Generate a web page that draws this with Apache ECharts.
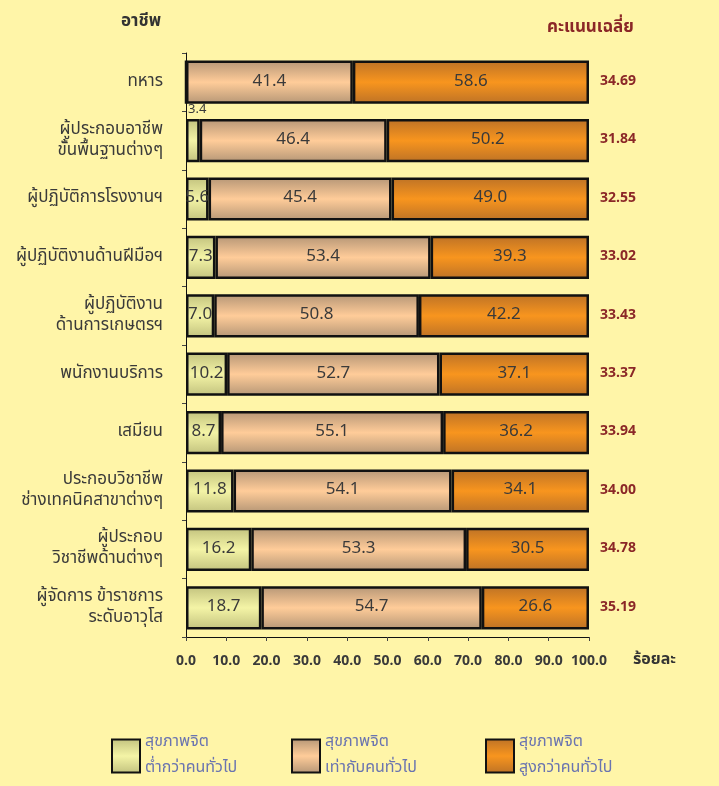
<!DOCTYPE html>
<html>
<head>
<meta charset="utf-8">
<script src="https://cdn.jsdelivr.net/npm/echarts@6/dist/echarts.min.js"></script>
<style>
  html, body { margin: 0; padding: 0; background: #fff5a8; }
  #chart { width: 719px; height: 786px; }
</style>
</head>
<body>
<div id="chart"></div>
<script>
// อาชีพ
const categories = [
  'ทหาร',
  'ผู้ประกอบอาชีพ\nขั้นพื้นฐานต่างๆ',
  'ผู้ปฏิบัติการโรงงานฯ',
  'ผู้ปฏิบัติงานด้านฝีมือฯ',
  'ผู้ปฏิบัติงาน\nด้านการเกษตรฯ',
  'พนักงานบริการ',
  'เสมียน',
  'ประกอบวิชาชีพ\nช่างเทคนิคสาขาต่างๆ',
  'ผู้ประกอบ\nวิชาชีพด้านต่างๆ',
  'ผู้จัดการ ข้าราชการ\nระดับอาวุโส'
]
const lowValues = [0, 3.4, 5.6, 7.3, 7.0, 10.2, 8.7, 11.8, 16.2, 18.7]
const equalValues = [41.4, 46.4, 45.4, 53.4, 50.8, 52.7, 55.1, 54.1, 53.3, 54.7]
const highValues = [58.6, 50.2, 49.0, 39.3, 42.2, 37.1, 36.2, 34.1, 30.5, 26.6]
const avgScores = ['34.69', '31.84', '32.55', '33.02', '33.43', '33.37', '33.94', '34.00', '34.78', '35.19']
const seriesNames = ['สุขภาพจิต\nต่ำกว่าคนทั่วไป', 'สุขภาพจิต\nเท่ากับคนทั่วไป', 'สุขภาพจิต\nสูงกว่าคนทั่วไป']

const FONT = 'Tahoma, "Noto Sans Thai", "Noto Sans", sans-serif'

function grad(edge, mid) {
  return new echarts.graphic.LinearGradient(0, 0, 0, 1, [
    { offset: 0, color: edge },
    { offset: 0.5, color: mid },
    { offset: 1, color: edge }
  ])
}

const colors = [
  grad('#c2c27e', '#f4f4a6'),
  grad('#b59676', '#ffcc99'),
  grad('#bd7226', '#f8951e')
]

const chart = echarts.init(document.getElementById('chart'))

function barSeries(idx, values) {
  return {
    name: seriesNames[idx],
    type: 'bar',
    stack: 'total',
    barWidth: '74%',
    data: values.map((v, i) => {
      // 3.4 อยู่เหนือแท่ง
      if (idx === 0 && v > 0 && v < 5) {
        return { value: v, label: { position: [2, -15], fontSize: 13 } }
      }
      return v
    }),
    itemStyle: { color: colors[idx], borderColor: '#111', borderWidth: 2.5 },
    label: {
      show: true,
      position: 'inside',
      color: '#3a3a3a',
      fontSize: 17,
      fontFamily: FONT,
      formatter: p => (p.value > 0 ? p.value.toFixed(1) : '')
    },
    emphasis: { disabled: true }
  }
}

function legendAt(idx, left) {
  return {
    data: [{ name: seriesNames[idx], icon: 'rect' }],
    left: left,
    top: 725,
    itemWidth: 28,
    itemHeight: 33,
    itemGap: 10,
    selectedMode: false,
    textStyle: { color: '#6a74b0', fontSize: 16, fontFamily: FONT, lineHeight: 26 }
  }
}

chart.setOption({
  backgroundColor: '#fff5a8',
  animation: false,
  grid: { left: 186, right: 130, top: 53, height: 584 },
  title: [
    { text: 'อาชีพ', left: 116, top: 9, textStyle: { fontSize: 17, fontWeight: 'bold', color: '#333', fontFamily: FONT } },
    { text: 'คะแนนเฉลี่ย', left: 542, top: 15, textStyle: { fontSize: 17, fontWeight: 'bold', color: '#8b2727', fontFamily: FONT } },
    { text: 'ร้อยละ', left: 628, top: 648, textStyle: { fontSize: 16, fontWeight: 'bold', color: '#333', fontFamily: FONT } }
  ],
  legend: [legendAt(0, 106), legendAt(1, 286), legendAt(2, 480)],
  xAxis: {
    type: 'value',
    min: 0,
    max: 100,
    interval: 10,
    splitLine: { show: false },
    axisLine: { show: true, lineStyle: { color: '#111' } },
    axisTick: { show: true, length: 4, lineStyle: { color: '#444' } },
    axisLabel: {
      color: '#3a3a3a',
      fontSize: 14,
      fontWeight: 'bold',
      fontFamily: FONT,
      margin: 18,
      formatter: v => v.toFixed(1)
    }
  },
  yAxis: [
    {
      type: 'category',
      data: categories,
      inverse: true,
      axisLine: { show: true, lineStyle: { color: '#111' } },
      axisTick: { show: true, length: 4, lineStyle: { color: '#444' } },
      axisLabel: {
        color: '#3a3a3a',
        fontSize: 17,
        fontFamily: FONT,
        margin: 23,
        lineHeight: 21,
        align: 'right'
      }
    },
    {
      type: 'category',
      data: avgScores,
      inverse: true,
      position: 'right',
      axisLine: { show: false },
      axisTick: { show: false },
      axisLabel: {
        color: '#8b2727',
        fontSize: 14,
        fontWeight: 'bold',
        fontFamily: FONT,
        margin: 11
      }
    }
  ],
  series: [
    barSeries(0, lowValues),
    barSeries(1, equalValues),
    barSeries(2, highValues)
  ]
})
</script>
</body>
</html>
